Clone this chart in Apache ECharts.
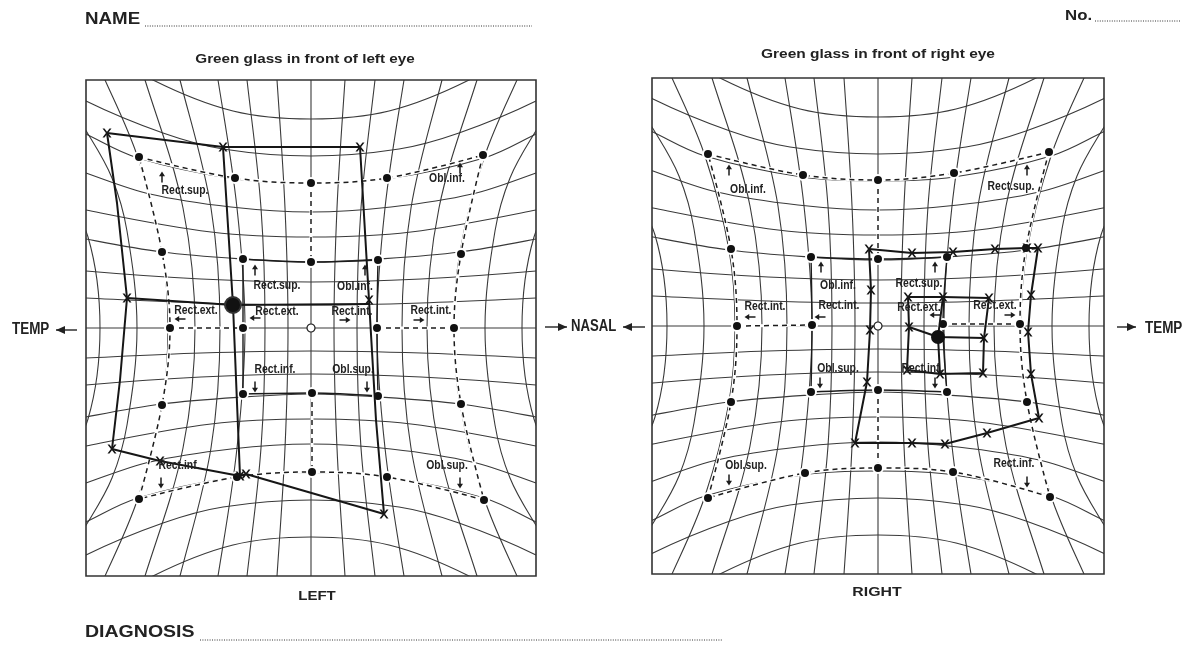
<!DOCTYPE html>
<html><head><meta charset="utf-8">
<style>html,body{margin:0;padding:0;background:#fff}#c{width:1184px;height:648px}</style>
<script src="https://cdn.jsdelivr.net/npm/echarts@6/dist/echarts.min.js"></script>
</head><body><div id="c"></div>
<script>
// Printed chart grid, top-left quadrant, in chart units from the panel centre
const gridRows = [
 [[0,23],[110,25],[225,30],[260,32]],
 [[0,46],[110,49],[225,57],[260,62]],
 [[0,66],[68,69],[149,76],[225,89],[260,97]],
 [[0,91],[100,96],[225,118],[260,128]],
 [[0,116],[80,121],[161,134],[225,155],[260,168]],
 [[0,145],[76,149],[173,170],[225,194],[260,212]],
 [[0,172],[88,179],[148,195],[225,227],[260,250]],
 [[0,209],[78,217],[158,248],[225,290]]
];
const gridCols = [
 [[0,23],[120,26],[248,34],[270,36]],
 [[0,46],[120,50],[248,64],[270,67]],
 [[0,66],[120,74],[248,93],[270,98]],
 [[0,91],[120,100],[248,131],[270,138]],
 [[0,116],[120,128],[248,166],[270,175]],
 [[0,143],[76,149],[170,173],[248,206],[270,218]],
 [[0,174],[97,184],[150,199],[194,223],[250,260]],
 [[0,211],[91,223],[150,255]]
];
// Left panel: normal field
const leftOuter = [[-172,171],[-76,150],[0,145],[76,150],[172,173],[150,74],[143,0],[150,-76],[173,-172],[76,-149],[1,-144],[-74,-149],[-172,-171],[-149,-77],[-141,0],[-149,76],[-172,171]];
const leftInner = [[-68,69],[0,66],[67,68],[66,0],[67,-68],[1,-65],[-68,-66],[-68,0],[-68,69]];
// Right panel: normal field
const rightOuter = [[-170,172],[-75,151],[0,146],[76,153],[171,174],[148,78],[142,2],[149,-76],[172,-171],[75,-146],[0,-142],[-73,-147],[-170,-172],[-147,-76],[-141,0],[-147,77],[-170,172]];
const rightInner = [[-67,69],[0,67],[69,69],[65,2],[69,-66],[0,-64],[-67,-66],[-66,1],[-67,69]];
// Left panel: plotted eye
const leftPlotRing = [[-204,195],[-88,181],[49,181],[58,28],[65,-92],[73,-186],[-65,-146],[-71,-148],[-151,-133],[-199,-121],[-191,-52],[-184,30],[-194,125],[-204,195]];
const leftPlotH = [[-184,30],[-78,23],[58,24]];
const leftPlotV = [[-88,181],[-78,23],[-71,-148]];
const leftCentre = [[-78,23]];
const leftCrosses = [[-204,195],[-88,181],[49,181],[-184,30],[58,28],[-199,-121],[-151,-133],[-71,-148],[-65,-146],[73,-186]];
// Right panel: plotted eye, outer and inner field
const rightPlotOuter = [[-9,77],[34,73],[75,74],[117,77],[149,78],[160,78],[153,31],[150,-6],[153,-48],[161,-92],[109,-107],[67,-118],[34,-117],[-23,-117],[-11,-56],[-8,-4],[-7,36],[-9,77]];
const rightPlotInner = [[30,29],[65,29],[111,28],[106,-12],[105,-47],[62,-48],[29,-44],[31,-1],[30,29]];
const rightPlotH = [[31,-1],[60,-11],[106,-12]];
const rightPlotV = [[65,29],[60,-11],[62,-48]];
const rightCentre = [[60,-11]];
// Muscle labels
const leftLabels = [["Rect.sup.",-126,138],["Obl.inf.",136,150],["Rect.sup.",-34,43],["Obl.inf.",44,42],["Rect.ext.",-115,18],["Rect.ext.",-34,17],["Rect.int.",41,17],["Rect.int.",120,18],["Rect.inf.",-36,-41],["Obl.sup.",42,-41],["Rect.inf.",-132,-137],["Obl.sup.",136,-137]];
const rightLabels = [["Obl.inf.",-130,137],["Rect.sup.",133,140],["Obl.inf.",-40,41],["Rect.sup.",41,43],["Rect.int.",-113,20],["Rect.int.",-39,21],["Rect.ext.",41,19],["Rect.ext.",117,21],["Obl.sup.",-40,-42],["Rect.inf.",44,-42],["Obl.sup.",-132,-139],["Rect.inf.",136,-137]];
// Small direction arrows: x, y, rotation in degrees
const leftArrows = [[-149,151,0],[-56,58,0],[149,160,0],[54,58,0],[-131,9,90],[-56,10,90],[34,8,-90],[108,8,-90],[56,-59,180],[149,-155,180],[-56,-59,180],[-150,-155,180]];
const rightArrows = [[-149,156,0],[-57,59,0],[57,59,0],[149,156,0],[-128,9,90],[-58,9,90],[57,11,90],[132,11,-90],[-58,-57,180],[57,-57,180],[149,-156,180],[-149,-154,180]];

const INK = '#1c1c1c', GRIDC = '#3a3a3a';
const CROSS = 'path://M0 0 L2.2 0 L5 3.6 L7.8 0 L10 0 L6.2 5 L10 10 L7.8 10 L5 6.4 L2.2 10 L0 10 L3.8 5 Z';
const ARROW = 'path://M5 0 L9 6 L6 6 L6 14 L4 14 L4 6 L1 6 Z';
const SANS = '"Liberation Sans",Arial,sans-serif';

function lineS(i, data, o) {
  o = o || {};
  return {type:'line', xAxisIndex:i, yAxisIndex:i, data, symbol:'none', silent:true, clip:true,
    smooth:o.smooth||0, z:o.z||2,
    lineStyle:{color:o.color||INK, width:o.width||1, type:o.dash||'solid', opacity:1}};
}
function scat(i, data, symbol, size, style, z) {
  return {type:'scatter', xAxisIndex:i, yAxisIndex:i, silent:true, z, symbol, symbolSize:size,
    itemStyle:Object.assign({opacity:1}, style), data};
}
function panelSeries(i, p) {
  const s = [];
  const gl = {smooth:.35, color:GRIDC, width:1.1};
  gridRows.forEach(c => {
    const pts = c.slice().reverse().map(q=>[-q[0],q[1]]).concat(c.slice(1));
    s.push(lineS(i, pts, gl));
    s.push(lineS(i, pts.map(q=>[q[0],-q[1]]), gl));
  });
  gridCols.forEach(c => {
    const pts = c.slice().reverse().map(q=>[q[1],-q[0]]).concat(c.slice(1).map(q=>[q[1],q[0]]));
    s.push(lineS(i, pts, gl));
    s.push(lineS(i, pts.map(q=>[-q[0],q[1]]), gl));
  });
  s.push(lineS(i, [[-300,0],[300,0]], {color:GRIDC, width:1.1}));
  s.push(lineS(i, [[0,-300],[0,300]], {color:GRIDC, width:1.1}));
  const o = p.outer, n = p.inner;
  const sides = [o.slice(0,5),o.slice(4,9),o.slice(8,13),o.slice(12,17)];
  sides.forEach(d => {
    s.push(lineS(i, d, {smooth:.35, color:'#fff', width:3.4, z:3}));
    s.push(lineS(i, d, {smooth:.35, dash:[5,4], width:1.5, z:4}));
  });
  [[o[14],n[7]],[n[3],o[6]],[o[2],n[1]],[n[5],o[10]]].forEach(d => {
    s.push(lineS(i, d, {color:'#fff', width:3, z:3}));
    s.push(lineS(i, d, {dash:[5,4], width:1.5, z:4}));
  });
  [n.slice(0,3),n.slice(2,5),n.slice(4,7),n.slice(6,9)].forEach(d => s.push(lineS(i, d, {smooth:.35, width:1.4, z:4})));
  s.push(scat(i, o.slice(0,-1).concat(n.slice(0,-1)), 'circle', 10, {color:'#111', borderColor:'#fff', borderWidth:2}, 5));
  s.push(scat(i, [[0,0]], 'circle', 8, {color:'#fff', borderColor:INK, borderWidth:1.2}, 5));
  s.push(scat(i, p.arrows.map(a=>({value:[a[0],a[1]], symbolRotate:a[2]})), ARROW, [6,11], {color:INK}, 6));
  p.plots.forEach(d => s.push(lineS(i, d, {width:2, z:7, color:'#161616'})));
  s.push(scat(i, p.crosses, CROSS, 9, {color:'#161616'}, 8));
  s.push(scat(i, p.centre, 'circle', p.ring?16:14, {color:'#111', borderColor:p.ring?'#333':'#111', borderWidth:p.ring?2:0}, 8));
  return s;
}
function txt(t,x,y,size,sx,a){return {type:'text',z:20,silent:true,x,y,scaleX:sx,style:{text:t,x:0,y:0,fontSize:size,fontWeight:'bold',fontFamily:SANS,fill:'#222',textAlign:a||'center',textVerticalAlign:'middle'}};}
function dots(x1,x2,y){return {type:'line',z:20,silent:true,shape:{x1,y1:y,x2,y2:y},style:{stroke:'#333',lineWidth:1,lineDash:[1,1.4]}};}
function arrow(x1,x2,y){const d=x2>x1?1:-1;return [
  {type:'line',z:20,silent:true,shape:{x1,y1:y,x2,y2:y},style:{stroke:'#222',lineWidth:1.4}},
  {type:'polygon',z:20,silent:true,shape:{points:[[x2,y],[x2-9*d,y-4],[x2-9*d,y+4]]},style:{fill:'#222'}}];}
function frame(x,y,w,h){const m=6, r=(a,b,c,e)=>({type:'rect',z:15,silent:true,shape:{x:a,y:b,width:c,height:e},style:{fill:'#fff'}});
  return [r(x-m,y-m,w+2*m,m),r(x-m,y+h,w+2*m,m),r(x-m,y,m,h),r(x+w,y,m,h),
   {type:'rect',z:16,silent:true,shape:{x,y,width:w,height:h},style:{fill:'transparent',stroke:'#333',lineWidth:1.6}}];}

const chart = echarts.init(document.getElementById('c'), null, {renderer:'canvas'});
const leftP = {outer:leftOuter, inner:leftInner, arrows:leftArrows,
  plots:[leftPlotRing,leftPlotH,leftPlotV], crosses:leftCrosses, centre:leftCentre, ring:true};
const rightP = {outer:rightOuter, inner:rightInner, arrows:rightArrows,
  plots:[rightPlotOuter,rightPlotInner,rightPlotH,rightPlotV],
  crosses:rightPlotOuter.slice(0,-1).concat(rightPlotInner.slice(0,-1)), centre:rightCentre, ring:false};
const axis = (i,m)=>({type:'value',gridIndex:i,min:-m,max:m,show:false,splitLine:{show:false}});
chart.setOption({
  animation:false, backgroundColor:'#fff', tooltip:{show:false},
  grid:[{left:86,top:80,width:450,height:496},{left:652,top:78,width:452,height:496}],
  xAxis:[axis(0,225),axis(1,226)],
  yAxis:[axis(0,248),axis(1,248)],
  series:panelSeries(0,leftP).concat(panelSeries(1,rightP))
});
// Muscle names are placed through the panels' own scales
const muscleTexts = [[0,leftLabels],[1,rightLabels]].flatMap(([g,ls]) => ls.map(l => {
  const q = chart.convertToPixel({gridIndex:g},[l[1],l[2]]);
  return txt(l[0],q[0],q[1],13,0.8);
}));
chart.setOption({graphic:[
    ...frame(86,80,450,496), ...frame(652,78,452,496),
    txt('NAME',85,20,16,1.17,'left'), dots(145,532,26),
    txt('No.',1065,16,15,1.12,'left'), dots(1095,1180,21),
    txt('Green glass in front of left eye',305,60,12,1.27),
    txt('Green glass in front of right eye',878,55,12,1.29),
    txt('LEFT',317,597,12,1.25), txt('RIGHT',877,593,12,1.32),
    txt('DIAGNOSIS',85,633,16,1.22,'left'), dots(200,722,640),
    txt('TEMP',12,330,16,0.84,'left'),
    txt('NASAL',571,327,16,0.82,'left'),
    txt('TEMP',1145,329,16,0.84,'left'),
    ...arrow(77,56,330),...arrow(545,567,327),...arrow(645,623,327),...arrow(1117,1136,327),
    ...muscleTexts
]});
</script></body></html>
